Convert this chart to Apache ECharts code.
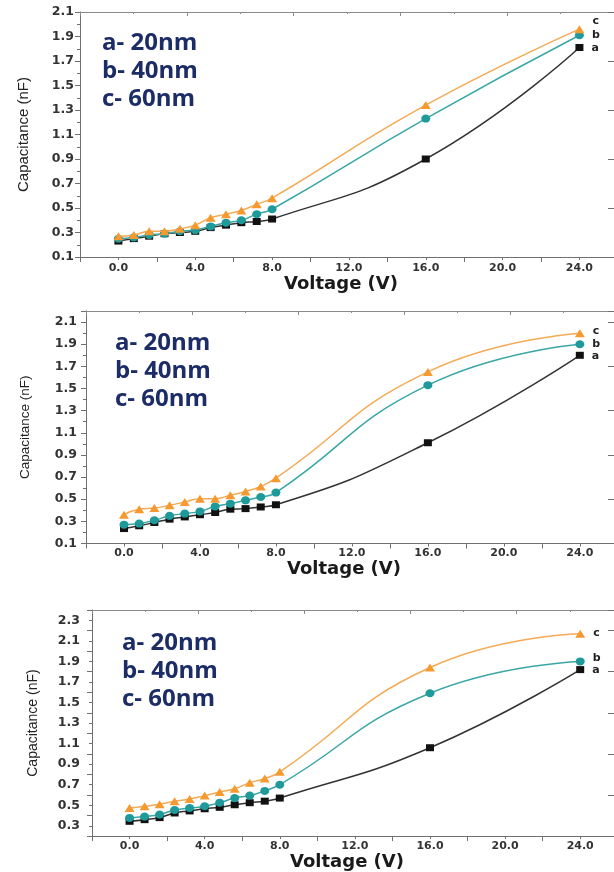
<!DOCTYPE html>
<html>
<head>
<meta charset="utf-8">
<script src="https://cdn.jsdelivr.net/npm/echarts@6/dist/echarts.min.js"></script>
<style>
html,body{margin:0;padding:0;background:#fff;}
#chart{width:614px;height:872px;}
</style>
</head>
<body>
<div id="chart"></div>
<script>
// ---- data ----
const voltage = [0, 0.8, 1.6, 2.4, 3.2, 4.0, 4.8, 5.6, 6.4, 7.2, 8.0, 16, 24];
const seriesNames = ['a', 'b', 'c'];
const legendLines = ['a- 20nm', 'b- 40nm', 'c- 60nm'];

const a1 = [0.23, 0.25, 0.27, 0.29, 0.30, 0.31, 0.34, 0.36, 0.38, 0.39, 0.41, 0.90, 1.81];
const b1 = [0.25, 0.26, 0.28, 0.29, 0.31, 0.32, 0.35, 0.38, 0.40, 0.45, 0.49, 1.23, 1.91];
const c1 = [0.27, 0.28, 0.31, 0.31, 0.33, 0.36, 0.42, 0.45, 0.48, 0.53, 0.58, 1.34, 1.96];

const a2 = [0.235, 0.26, 0.29, 0.32, 0.34, 0.36, 0.38, 0.41, 0.415, 0.43, 0.45, 1.01, 1.80];
const b2 = [0.27, 0.28, 0.31, 0.35, 0.37, 0.39, 0.435, 0.46, 0.49, 0.52, 0.56, 1.53, 1.90];
const c2 = [0.36, 0.41, 0.42, 0.445, 0.475, 0.505, 0.505, 0.535, 0.57, 0.615, 0.69, 1.65, 2.00];

const a3 = [0.344, 0.36, 0.38, 0.425, 0.445, 0.466, 0.48, 0.505, 0.525, 0.54, 0.57, 1.06, 1.82];
const b3 = [0.377, 0.39, 0.41, 0.454, 0.473, 0.49, 0.525, 0.57, 0.594, 0.64, 0.70, 1.59, 1.90];
const c3 = [0.473, 0.49, 0.51, 0.54, 0.56, 0.594, 0.63, 0.66, 0.72, 0.76, 0.825, 1.84, 2.17];

const xRange = [-2, 25.8];
const yRanges = [[0.1, 2.1], [0.1, 2.2], [0.2, 2.4]];
const panelData = [[a1, b1, c1], [a2, b2, c2], [a3, b3, c3]];

// ---- layout / style ----
const grids = [
  {left: 80, top: 12, width: 535, height: 245},
  {left: 86, top: 311, width: 533, height: 232.5},
  {left: 92, top: 610, width: 526, height: 227.7}
];
const xLabelMargin = [6, 4.5, 5];
const xNameGap = [15, 13.5, 14];
const yLabelMargin = [6, 9, 12];
const yNameGap = [49, 54, 52];
const yNameSize = [15, 13.5, 14];
const legendPos = [[102, 43, 28], [115, 343, 28], [122, 643, 28]];
// end-label nudges [panel][series]
const endLabelOffsets = [
  [[0, 1], [0, 0], [0, -8]],
  [[0, 1], [0, 0], [0, -2]],
  [[0, 1], [0, -3], [0, 0]]
];

const lineColors = ['#333333', '#3aa6a6', '#f5aa55'];
const markColors = ['#111111', '#1e9a9a', '#f59a30'];
const symbols = ['rect', 'circle', 'triangle'];
const symSizes = [[8, 7], [9, 8], [10, 8]];
const axisGrey = '#707070';
const labelFont = 'DejaVu Sans';

const xAxes = [], yAxes = [], series = [], graphics = [];

grids.forEach((g, i) => {
  const yr = yRanges[i];
  // main x axis (bottom) - ticks every 2, labels every 4
  xAxes.push({
    gridIndex: i, type: 'value', position: 'bottom', min: xRange[0], max: xRange[1], interval: 2,
    axisLine: {onZero: false, lineStyle: {color: axisGrey, width: 1}},
    axisTick: {show: true, inside: false, length: 3, lineStyle: {color: axisGrey}},
    splitLine: {show: false},
    axisLabel: {
      margin: xLabelMargin[i], color: '#333', fontFamily: labelFont, fontWeight: 'bold', fontSize: 11,
      showMinLabel: false, showMaxLabel: false,
      formatter: v => (Math.abs(v % 4) < 1e-6 ? v.toFixed(1) : '')
    },
    name: 'Voltage (V)', nameLocation: 'middle', nameGap: xNameGap[i],
    nameTextStyle: {fontFamily: labelFont, fontWeight: 'bold', fontSize: 18, color: '#1a1a1a', padding: [0, 12, 0, 0]}
  });
  // major x ticks overlay
  xAxes.push({
    gridIndex: i, type: 'value', position: 'bottom', min: xRange[0], max: xRange[1], interval: 4,
    axisLine: {show: false, onZero: false}, axisLabel: {show: false}, splitLine: {show: false},
    axisTick: {show: true, length: 5, lineStyle: {color: axisGrey}}
  });
  // top border with its own tick marks
  xAxes.push({
    gridIndex: i, type: 'value', position: 'top', min: 0, max: g.width / 53.5, interval: 2,
    axisLine: {show: true, onZero: false, lineStyle: {color: '#8a8a8a', width: 1}},
    axisLabel: {show: false}, splitLine: {show: false},
    axisTick: {show: true, inside: true, length: 4, lineStyle: {color: '#8a8a8a'}},
    minorTick: {show: true, splitNumber: 2, length: 2, lineStyle: {color: '#8a8a8a'}}
  });

  // main y axis: ticks every 0.1, labels at odd tenths
  yAxes.push({
    gridIndex: i, type: 'value', position: 'left', min: yr[0], max: yr[1], interval: 0.1,
    axisLine: {onZero: false, lineStyle: {color: axisGrey, width: 1}},
    axisTick: {show: true, inside: false, length: 3, lineStyle: {color: axisGrey}},
    splitLine: {show: false},
    axisLabel: {
      margin: yLabelMargin[i], color: '#333', fontFamily: labelFont, fontWeight: 'bold', fontSize: 12.5,
      formatter: v => (Math.round(v * 10) % 2 === 1 ? v.toFixed(1) : '')
    },
    name: 'Capacitance (nF)', nameLocation: 'middle', nameGap: yNameGap[i],
    nameTextStyle: {fontFamily: 'Liberation Sans', fontSize: yNameSize[i], color: '#222'}
  });
  // major y ticks overlay (range shifted by 0.1 so that the odd tenths fall on multiples of 0.2)
  yAxes.push({
    gridIndex: i, type: 'value', position: 'left', min: +(yr[0] - 0.1).toFixed(1), max: +(yr[1] - 0.1).toFixed(1), interval: 0.2,
    axisLine: {show: false, onZero: false}, axisLabel: {show: false}, splitLine: {show: false},
    axisTick: {show: true, length: 5, lineStyle: {color: axisGrey}}
  });
  // right side ticks
  yAxes.push({
    gridIndex: i, type: 'value', position: 'right', min: +(yr[0] - 0.1).toFixed(1), max: +(yr[1] - 0.1).toFixed(1), interval: 0.4,
    axisLine: {show: false, onZero: false}, axisLabel: {show: false}, splitLine: {show: false},
    axisTick: {show: true, inside: true, length: 6, lineStyle: {color: axisGrey}}
  });

  panelData[i].forEach((vals, k) => {
    const data = vals.map((v, j) => {
      const item = {value: [voltage[j], v]};
      if (j === vals.length - 1) {
        item.label = {show: true, formatter: seriesNames[k], position: 'right', distance: 8,
          offset: endLabelOffsets[i][k],
          fontFamily: labelFont, fontWeight: 'bold', fontSize: 11, color: '#222'};
      }
      return item;
    });
    series.push({
      type: 'line', name: seriesNames[k] + i, xAxisIndex: 3 * i, yAxisIndex: 3 * i,
      data: data, smooth: 0.5,
      symbol: symbols[k], symbolSize: symSizes[k], showAllSymbol: true,
      lineStyle: {color: lineColors[k], width: 1.5},
      itemStyle: {color: markColors[k]},
      z: 2 + k
    });
  });

  const lp = legendPos[i];
  legendLines.forEach((t, k) => {
    graphics.push({
      type: 'text', x: lp[0], y: lp[1] + k * lp[2],
      style: {text: t, fill: '#1c2c66', font: 'bold 24px "Open Sans"', verticalAlign: 'middle', align: 'left'}
    });
  });
});

const chart = echarts.init(document.getElementById('chart'), null, {renderer: 'canvas'});
chart.setOption({
  animation: false,
  backgroundColor: '#ffffff',
  grid: grids.map(g => Object.assign({containLabel: false}, g)),
  xAxis: xAxes,
  yAxis: yAxes,
  series: series,
  graphic: graphics
});
</script>
</body>
</html>
